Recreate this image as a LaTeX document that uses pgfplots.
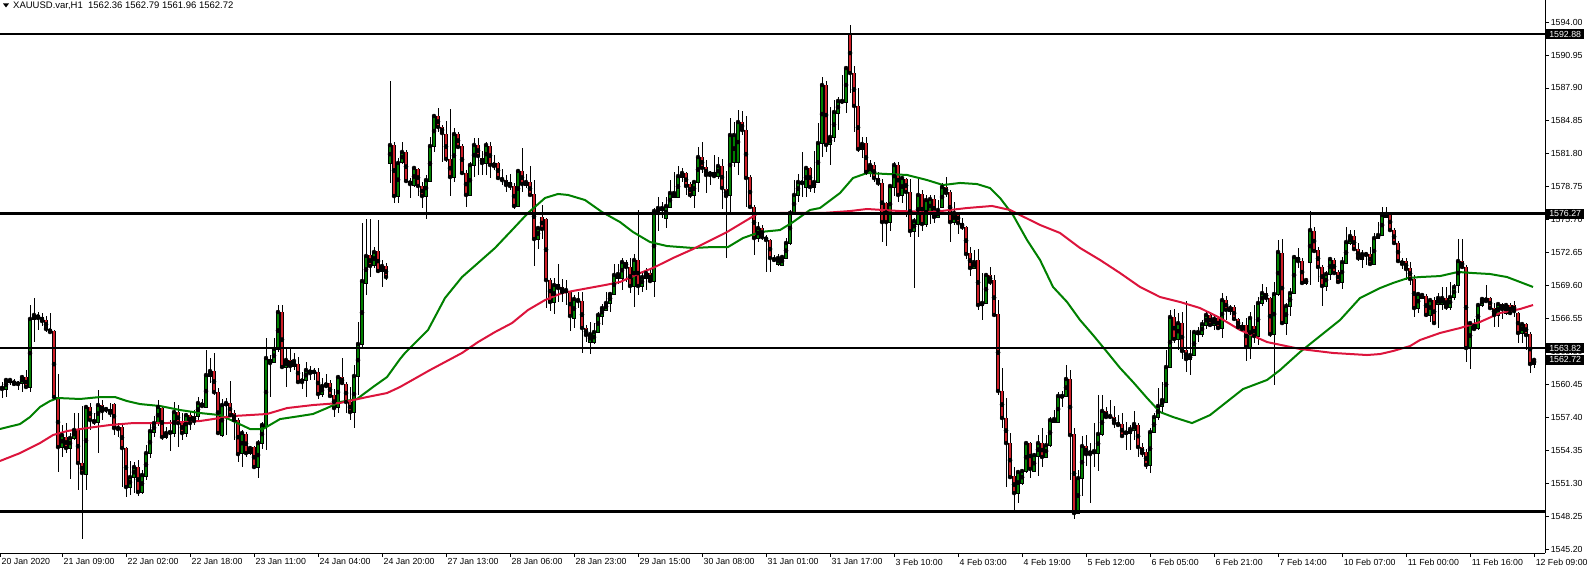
\documentclass[border=0pt]{standalone}
\usepackage{pgfplots}
\usepackage{pgfplotstable}
\pgfplotsset{compat=1.18}
\usepackage{fontspec}
\setmainfont{Liberation Sans}
\definecolor{mtgreen}{RGB}{0,128,0}
\definecolor{mtred}{RGB}{205,30,40}
\definecolor{macrimson}{RGB}{220,20,60}

% XAUUSD H1 bars: index, open, high, low, close
\pgfplotstableread{
i o h l c
0 1560.21 1560.67 1559.19 1560.03
1 1560.03 1561.04 1559.28 1560.86
2 1560.67 1561.04 1560.40 1560.86
3 1560.77 1560.95 1560.30 1560.49
4 1560.58 1560.77 1559.93 1560.49
5 1560.58 1561.32 1559.74 1561.13
6 1561.13 1561.78 1560.12 1560.21
7 1560.21 1567.80 1559.74 1566.51
8 1566.51 1568.45 1564.37 1566.88
9 1566.88 1567.15 1565.49 1566.60
10 1566.69 1567.06 1565.86 1566.32
11 1566.41 1566.78 1565.30 1565.58
12 1565.58 1567.06 1565.21 1565.30
13 1565.39 1565.49 1559.00 1559.28
14 1559.28 1561.41 1552.34 1554.65
15 1554.65 1556.69 1553.73 1555.76
16 1555.58 1556.87 1554.09 1554.56
17 1554.56 1555.95 1551.69 1555.49
18 1555.49 1557.80 1555.30 1556.23
19 1556.32 1557.80 1550.67 1553.17
20 1553.17 1558.45 1546.13 1552.25
21 1552.15 1558.54 1550.67 1558.36
22 1558.36 1558.73 1556.23 1557.15
23 1557.15 1557.80 1556.69 1556.97
24 1556.97 1559.93 1554.09 1558.54
25 1558.54 1559.00 1557.15 1557.99
26 1558.08 1558.36 1557.80 1558.17
27 1558.17 1558.73 1557.43 1557.80
28 1558.63 1558.73 1555.76 1556.41
29 1556.50 1556.87 1555.58 1556.32
30 1556.50 1556.69 1550.95 1554.56
31 1554.56 1554.65 1550.02 1550.95
32 1550.95 1553.36 1550.21 1551.87
33 1551.87 1553.26 1550.39 1552.80
34 1552.80 1553.45 1550.12 1550.49
35 1550.49 1552.52 1550.30 1552.06
36 1551.97 1554.83 1551.60 1554.09
37 1554.09 1556.87 1553.64 1556.13
38 1556.04 1557.52 1555.58 1556.87
39 1556.87 1559.00 1556.60 1558.36
40 1558.26 1558.45 1555.30 1555.58
41 1555.58 1556.50 1555.39 1555.95
42 1555.95 1557.15 1554.28 1556.04
43 1555.95 1558.82 1555.58 1557.89
44 1557.89 1558.54 1554.65 1556.87
45 1556.97 1557.80 1555.30 1555.95
46 1555.95 1557.80 1555.58 1557.61
47 1557.61 1557.99 1556.23 1556.87
48 1557.52 1558.08 1556.69 1557.06
49 1557.52 1559.28 1557.15 1558.73
50 1558.73 1559.10 1558.36 1558.45
51 1558.36 1563.63 1558.26 1561.32
52 1561.23 1562.89 1560.58 1561.69
53 1561.69 1563.36 1559.47 1559.74
54 1559.74 1560.12 1555.76 1555.95
55 1555.76 1559.10 1555.58 1558.54
56 1558.54 1559.19 1555.76 1558.73
57 1558.73 1560.77 1557.43 1557.61
58 1557.80 1558.08 1555.30 1557.15
59 1557.15 1557.34 1553.26 1554.00
60 1554.09 1556.23 1552.80 1555.95
61 1555.86 1556.04 1553.73 1554.09
62 1554.09 1554.74 1553.91 1554.56
63 1554.65 1554.74 1552.62 1552.80
64 1552.80 1555.30 1551.78 1555.02
65 1555.02 1556.97 1554.46 1556.69
66 1556.60 1564.74 1554.37 1562.89
67 1562.80 1563.17 1559.28 1562.43
68 1562.52 1564.74 1562.43 1563.73
69 1563.73 1567.80 1563.45 1567.15
70 1567.15 1567.80 1561.90 1562.06
71 1562.06 1563.73 1560.21 1562.71
72 1562.71 1563.91 1561.60 1562.15
73 1562.15 1563.36 1561.78 1562.62
74 1562.34 1562.98 1560.58 1560.67
75 1560.95 1561.60 1560.02 1560.67
76 1560.86 1562.52 1559.28 1561.78
77 1561.78 1562.15 1560.86 1561.50
78 1561.60 1561.97 1560.86 1561.62
79 1561.60 1561.97 1559.10 1559.56
80 1559.56 1561.04 1559.28 1560.30
81 1560.58 1561.41 1560.12 1560.30
82 1560.58 1560.86 1559.19 1559.38
83 1559.47 1560.02 1557.43 1558.26
84 1558.36 1561.32 1557.80 1561.13
85 1561.13 1562.89 1560.40 1560.58
86 1560.49 1560.67 1557.80 1558.82
87 1558.82 1560.21 1557.15 1557.89
88 1557.89 1562.25 1556.41 1561.23
89 1561.23 1566.23 1559.47 1564.19
90 1564.19 1575.39 1563.91 1570.02
91 1569.84 1575.76 1568.73 1572.34
92 1572.43 1575.76 1570.39 1571.41
93 1571.50 1573.17 1571.23 1572.71
94 1572.80 1575.67 1570.76 1570.95
95 1570.95 1571.97 1569.47 1571.41
96 1571.41 1571.69 1570.11 1570.39
97 1580.95 1588.54 1579.10 1582.61
98 1582.62 1582.89 1577.24 1577.89
99 1577.89 1581.41 1577.24 1580.95
100 1581.04 1582.89 1580.86 1581.97
101 1581.97 1582.15 1579.09 1579.28
102 1579.28 1579.56 1577.71 1579.00
103 1578.91 1580.67 1578.73 1580.49
104 1580.39 1580.49 1577.89 1578.82
105 1578.82 1579.19 1576.78 1577.89
106 1577.89 1579.84 1575.76 1579.37
107 1579.28 1583.36 1579.19 1582.52
108 1582.52 1585.48 1581.97 1585.30
109 1585.30 1586.04 1583.82 1584.28
110 1584.28 1584.46 1581.04 1583.72
111 1583.63 1584.83 1581.04 1581.32
112 1581.32 1585.95 1577.89 1579.65
113 1579.65 1584.19 1579.19 1583.63
114 1583.63 1583.82 1582.34 1582.43
115 1582.52 1582.71 1579.84 1580.02
116 1580.02 1580.30 1576.88 1577.99
117 1577.99 1581.04 1577.89 1580.76
118 1580.76 1583.26 1579.65 1582.62
119 1582.62 1583.26 1579.84 1581.60
120 1581.41 1582.06 1579.84 1580.95
121 1580.95 1582.89 1579.84 1582.62
122 1582.52 1582.89 1579.56 1580.76
123 1580.95 1581.69 1580.30 1580.67
124 1580.95 1581.04 1579.37 1579.56
125 1579.56 1580.39 1578.91 1579.37
126 1579.37 1579.84 1578.26 1578.91
127 1579.19 1579.93 1578.45 1578.82
128 1578.82 1579.09 1576.69 1576.97
129 1576.97 1580.39 1576.88 1580.21
130 1580.21 1582.34 1578.26 1579.00
131 1578.91 1579.93 1578.63 1579.19
132 1579.19 1580.67 1577.90 1577.99
133 1578.08 1579.37 1571.41 1573.91
134 1573.91 1575.02 1572.98 1574.93
135 1575.95 1577.06 1573.91 1574.84
136 1575.76 1575.86 1567.52 1570.11
137 1570.11 1570.30 1567.24 1568.08
138 1568.08 1570.30 1566.97 1569.65
139 1569.74 1571.60 1568.08 1569.37
140 1569.47 1570.21 1568.08 1569.00
141 1569.00 1570.11 1567.80 1569.19
142 1569.00 1569.10 1565.39 1566.78
143 1566.60 1568.73 1565.67 1568.36
144 1568.36 1569.00 1567.52 1568.17
145 1568.17 1569.00 1563.36 1565.67
146 1565.67 1565.95 1564.37 1565.02
147 1564.37 1566.23 1563.26 1565.11
148 1564.37 1566.13 1564.19 1565.30
149 1565.30 1567.15 1565.21 1566.88
150 1566.78 1567.89 1565.95 1567.52
151 1567.34 1569.00 1567.24 1567.99
152 1567.99 1569.00 1567.15 1568.82
153 1568.82 1571.60 1568.73 1570.58
154 1570.30 1571.60 1569.74 1570.67
155 1570.30 1572.15 1569.19 1571.78
156 1571.78 1571.97 1569.93 1571.32
157 1571.32 1572.15 1568.91 1569.56
158 1569.56 1572.52 1567.61 1571.97
159 1571.97 1576.60 1568.73 1569.56
160 1569.56 1570.86 1569.00 1570.39
161 1570.30 1571.23 1569.19 1570.76
162 1570.76 1571.23 1569.84 1570.02
163 1570.02 1576.78 1568.54 1576.50
164 1576.41 1577.80 1574.65 1576.78
165 1576.60 1577.34 1575.86 1576.78
166 1575.86 1577.80 1574.93 1576.97
167 1576.88 1579.37 1576.78 1578.17
168 1577.80 1580.12 1577.71 1578.17
169 1577.80 1580.67 1577.71 1579.74
170 1579.65 1580.49 1579.19 1580.02
171 1580.02 1580.12 1577.99 1578.82
172 1579.00 1579.19 1577.71 1577.99
173 1577.99 1579.28 1576.78 1579.19
174 1579.19 1582.43 1578.26 1581.50
175 1581.50 1582.89 1580.02 1580.49
176 1580.58 1581.23 1578.17 1579.84
177 1580.12 1580.21 1578.91 1579.84
178 1580.12 1581.69 1579.56 1579.74
179 1579.74 1581.50 1579.47 1580.67
180 1580.67 1581.32 1576.69 1578.63
181 1578.54 1580.21 1572.15 1577.89
182 1577.99 1585.11 1576.32 1583.54
183 1581.04 1584.74 1580.58 1583.54
184 1581.04 1585.86 1579.84 1584.74
185 1584.74 1585.76 1583.54 1584.00
186 1584.00 1585.30 1576.88 1579.56
187 1579.65 1579.84 1576.78 1576.88
188 1576.88 1577.06 1572.43 1574.00
189 1574.00 1575.48 1573.63 1574.93
190 1574.93 1575.21 1573.82 1574.09
191 1574.09 1574.28 1570.86 1573.82
192 1573.82 1573.91 1570.86 1572.15
193 1572.15 1572.43 1571.78 1571.97
194 1571.60 1572.52 1571.41 1572.15
195 1571.50 1572.43 1571.41 1572.25
196 1572.15 1574.00 1572.10 1573.54
197 1573.54 1576.60 1573.36 1576.32
198 1576.32 1579.37 1576.13 1577.99
199 1577.99 1579.93 1577.34 1579.19
200 1579.19 1581.97 1577.80 1579.09
201 1578.73 1580.67 1577.80 1580.49
202 1580.49 1580.58 1578.26 1578.73
203 1578.73 1582.06 1578.17 1579.19
204 1579.19 1584.65 1579.09 1582.80
205 1582.80 1588.91 1581.50 1588.17
206 1588.17 1588.54 1581.97 1582.62
207 1582.71 1586.13 1580.76 1583.36
208 1583.36 1586.78 1582.89 1585.67
209 1585.58 1587.06 1584.00 1586.69
210 1586.60 1589.09 1586.50 1586.69
211 1586.60 1589.93 1585.58 1589.74
212 1592.98 1593.73 1587.43 1589.28
213 1589.28 1589.93 1583.82 1586.23
214 1586.23 1587.89 1581.97 1582.24
215 1582.24 1583.36 1581.41 1582.71
216 1582.80 1583.36 1579.84 1580.12
217 1580.12 1581.23 1579.65 1580.76
218 1580.76 1581.04 1579.19 1579.56
219 1579.56 1580.12 1578.82 1579.09
220 1579.09 1579.47 1573.63 1575.48
221 1577.24 1577.34 1573.26 1575.48
222 1575.48 1578.91 1574.65 1578.82
223 1578.73 1581.04 1577.89 1580.76
224 1580.76 1581.04 1577.34 1577.99
225 1577.99 1579.65 1577.24 1579.56
226 1579.47 1579.56 1575.95 1578.26
227 1578.26 1579.47 1574.09 1574.65
228 1574.65 1575.86 1569.37 1575.58
229 1575.30 1579.56 1574.09 1577.99
230 1578.08 1578.45 1574.65 1575.30
231 1575.30 1577.99 1575.02 1577.52
232 1576.32 1577.99 1575.30 1577.61
233 1577.61 1577.99 1575.39 1575.95
234 1575.95 1577.52 1575.85 1576.60
235 1576.88 1579.09 1576.78 1578.73
236 1578.73 1579.65 1577.80 1578.17
237 1578.26 1578.45 1573.63 1575.48
238 1575.48 1577.34 1575.21 1576.32
239 1576.32 1576.41 1574.37 1575.39
240 1575.39 1575.86 1574.74 1575.02
241 1575.02 1575.11 1572.06 1572.52
242 1572.61 1573.17 1570.48 1571.23
243 1571.23 1572.89 1571.13 1571.78
244 1571.97 1572.98 1567.34 1567.80
245 1567.80 1570.76 1566.41 1567.99
246 1567.99 1570.76 1567.89 1570.58
247 1570.58 1571.32 1569.65 1569.93
248 1570.11 1570.58 1566.69 1566.88
249 1566.97 1568.26 1559.47 1559.84
250 1559.84 1561.97 1556.41 1557.34
251 1557.34 1559.19 1550.95 1555.02
252 1555.02 1555.95 1551.78 1551.87
253 1551.97 1552.80 1548.82 1550.39
254 1550.39 1552.52 1549.47 1552.34
255 1551.32 1552.62 1551.13 1552.43
256 1552.43 1555.11 1552.25 1555.02
257 1555.02 1555.11 1551.78 1552.62
258 1552.43 1554.09 1552.34 1553.91
259 1553.82 1555.76 1551.97 1555.02
260 1555.02 1556.41 1552.80 1553.73
261 1553.73 1555.76 1553.64 1554.83
262 1554.83 1557.43 1554.65 1557.15
263 1556.97 1558.08 1556.87 1557.24
264 1556.97 1559.74 1556.87 1559.38
265 1559.28 1559.84 1558.36 1559.38
266 1559.38 1562.25 1559.28 1560.95
267 1560.95 1561.78 1551.60 1555.76
268 1555.86 1556.41 1547.98 1548.54
269 1548.54 1552.52 1548.45 1551.78
270 1551.78 1555.67 1550.12 1554.74
271 1554.74 1555.76 1552.89 1554.00
272 1554.28 1555.02 1549.47 1554.00
273 1554.09 1556.87 1552.80 1554.28
274 1554.09 1559.47 1552.43 1555.86
275 1555.86 1559.47 1555.67 1557.99
276 1557.99 1558.36 1557.34 1557.43
277 1557.43 1559.00 1557.34 1557.52
278 1557.43 1558.45 1556.41 1556.87
279 1556.87 1557.61 1556.50 1556.69
280 1556.78 1557.80 1555.58 1555.67
281 1556.04 1556.97 1554.37 1555.95
282 1555.95 1556.69 1554.37 1556.32
283 1556.23 1557.99 1555.30 1556.78
284 1556.69 1556.87 1553.73 1554.65
285 1554.65 1555.02 1553.73 1554.09
286 1554.19 1554.46 1552.62 1552.99
287 1552.99 1556.41 1552.25 1556.04
288 1556.04 1557.80 1555.95 1557.43
289 1557.43 1560.12 1557.15 1558.45
290 1558.45 1560.67 1557.80 1559.00
291 1558.82 1563.63 1558.73 1562.06
292 1562.06 1567.34 1561.97 1566.69
293 1566.69 1567.43 1564.28 1564.65
294 1564.65 1567.06 1563.63 1566.13
295 1566.13 1567.15 1562.80 1563.54
296 1563.63 1568.17 1561.60 1562.80
297 1562.80 1565.49 1561.32 1563.17
298 1563.17 1565.49 1563.08 1565.30
299 1565.11 1565.76 1564.37 1565.30
300 1565.11 1566.41 1564.83 1566.04
301 1565.95 1567.15 1565.58 1566.88
302 1566.88 1567.15 1565.76 1565.95
303 1565.95 1566.88 1565.49 1566.51
304 1566.60 1566.78 1565.49 1565.67
305 1565.67 1568.91 1564.74 1568.26
306 1568.26 1568.63 1566.41 1567.34
307 1567.24 1567.80 1566.88 1567.52
308 1567.61 1567.80 1566.32 1566.51
309 1566.51 1566.60 1565.49 1565.76
310 1565.95 1566.23 1565.30 1565.58
311 1565.95 1566.60 1562.62 1563.91
312 1563.91 1567.15 1562.80 1566.60
313 1565.86 1567.80 1564.28 1564.93
314 1564.93 1568.54 1564.09 1567.99
315 1567.99 1569.74 1567.71 1568.91
316 1568.91 1569.47 1568.08 1568.45
317 1568.45 1568.54 1564.83 1565.11
318 1565.11 1569.93 1560.40 1568.82
319 1568.82 1573.82 1568.63 1572.71
320 1572.61 1573.91 1566.04 1566.13
321 1566.13 1567.99 1565.02 1567.71
322 1567.71 1569.37 1566.78 1568.91
323 1568.91 1572.43 1568.80 1572.24
324 1572.24 1573.08 1571.23 1571.87
325 1571.87 1572.15 1569.74 1569.84
326 1569.84 1570.30 1569.65 1570.11
327 1571.78 1576.50 1569.65 1574.74
328 1574.65 1575.02 1572.61 1572.80
329 1572.89 1573.17 1569.93 1571.32
330 1571.32 1571.50 1567.71 1569.56
331 1569.56 1570.95 1569.10 1570.67
332 1570.67 1572.25 1570.11 1572.06
333 1571.97 1572.15 1570.70 1570.76
334 1570.86 1571.04 1569.84 1569.93
335 1569.93 1572.25 1569.28 1571.78
336 1571.69 1575.02 1571.60 1573.63
337 1573.54 1574.74 1573.36 1574.19
338 1574.19 1574.74 1572.80 1572.98
339 1572.98 1573.54 1571.87 1572.15
340 1572.06 1572.89 1571.23 1572.52
341 1572.43 1572.61 1571.50 1572.52
342 1572.52 1573.17 1571.50 1571.60
343 1571.60 1574.47 1571.50 1574.00
344 1574.00 1575.48 1573.91 1574.28
345 1574.28 1576.88 1574.19 1576.13
346 1575.95 1576.88 1575.90 1576.23
347 1576.23 1576.41 1574.65 1574.74
348 1574.74 1574.93 1573.36 1573.54
349 1573.54 1573.73 1571.69 1571.87
350 1571.87 1572.15 1571.13 1571.60
351 1571.87 1572.15 1570.11 1571.13
352 1571.23 1571.78 1569.65 1570.21
353 1570.21 1570.58 1566.69 1567.52
354 1567.52 1568.91 1567.06 1568.82
355 1568.45 1568.91 1568.36 1568.73
356 1568.63 1568.82 1566.69 1566.88
357 1566.88 1568.45 1566.23 1568.26
358 1568.26 1568.54 1566.05 1566.13
359 1567.89 1568.91 1565.67 1568.45
360 1567.89 1569.47 1567.34 1568.45
361 1568.45 1569.47 1567.34 1567.61
362 1567.61 1569.93 1567.34 1568.54
363 1568.54 1569.74 1568.26 1569.47
364 1569.65 1573.91 1568.91 1571.87
365 1571.87 1573.91 1571.13 1571.32
366 1571.32 1571.50 1562.52 1563.82
367 1563.82 1566.23 1561.87 1566.13
368 1566.13 1566.51 1565.49 1565.58
369 1565.67 1567.99 1565.49 1567.80
370 1567.80 1568.54 1567.61 1568.36
371 1568.45 1569.65 1568.08 1568.17
372 1568.45 1568.54 1567.43 1567.52
373 1567.52 1567.99 1565.76 1566.88
374 1566.88 1567.99 1565.76 1567.89
375 1567.89 1567.99 1566.50 1567.43
376 1567.06 1567.99 1566.88 1567.80
377 1567.80 1567.99 1566.88 1567.06
378 1567.80 1568.17 1566.69 1567.24
379 1567.06 1567.15 1564.28 1565.21
380 1565.21 1566.13 1564.28 1566.04
381 1566.04 1566.13 1563.63 1565.02
382 1565.11 1565.30 1561.50 1562.34
383 1562.36 1562.79 1561.96 1562.72
}\candles

\begin{document}
\begin{tikzpicture}
\useasboundingbox (0pt,0pt) rectangle (1589pt,-569pt);
\begin{axis}[
    at={(0pt,0pt)}, anchor=north west,
    scale only axis, width=1545pt, height=553pt,
    xmin=-0.5, xmax=385.75,
    ymin=1544.84, ymax=1596.04,
    axis x line*=bottom, axis y line*=right,
    axis line style={black, line width=1pt},
    tick align=outside, major tick length=4pt,
    tick style={black, line width=0.8pt},
    xtick={-0.5,15,31,47,63,79,95,111,127,143,159,175,191,207,223,239,255,271,287,303,319,335,351,367,383},
    xticklabels={20 Jan 2020,21 Jan 09:00,22 Jan 02:00,22 Jan 18:00,23 Jan 11:00,24 Jan 04:00,24 Jan 20:00,27 Jan 13:00,28 Jan 06:00,28 Jan 23:00,29 Jan 15:00,30 Jan 08:00,31 Jan 01:00,31 Jan 17:00,3 Feb 10:00,4 Feb 03:00,4 Feb 19:00,5 Feb 12:00,6 Feb 05:00,6 Feb 21:00,7 Feb 14:00,10 Feb 07:00,11 Feb 00:00,11 Feb 16:00,12 Feb 09:00},
    ytick={1545.20,1548.25,1551.30,1554.35,1557.40,1560.45,1563.50,1566.55,1569.60,1572.65,1575.70,1578.75,1581.80,1584.85,1587.90,1590.95,1594.00},
    yticklabels={1545.20,1548.25,1551.30,1554.35,1557.40,1560.45,1563.50,1566.55,1569.60,1572.65,1575.70,1578.75,1581.80,1584.85,1587.90,1590.95,1594.00},
    tick label style={font=\fontsize{8.8}{10}\selectfont},
    xticklabel style={anchor=north west, inner sep=1.5pt},
    yticklabel style={anchor=west, inner sep=1.5pt},
]
% wicks: high-low
\addplot[only marks, mark=none,
    error bars/.cd, y dir=both, y explicit, error mark=none,
    error bar style={black, line width=1pt}]
    table[x=i, y=c, y error plus expr=\thisrow{h}-\thisrow{c}, y error minus expr=\thisrow{c}-\thisrow{l}] {\candles};
% bodies: black outline
\addplot[only marks, mark=none,
    error bars/.cd, y dir=both, y explicit, error mark=-,
    error bar style={black, line width=3.3pt},
    error mark options={rotate=90, black, line width=0.7pt, mark size=1.65pt}]
    table[x=i, y expr=(\thisrow{o}+\thisrow{c})/2, y error expr=abs(\thisrow{o}-\thisrow{c})/2] {\candles};
% bodies: fill of rising bars
\addplot[only marks, mark=none, restrict expr to domain={\thisrow{c}-\thisrow{o}}{0:100},
    error bars/.cd, y dir=both, y explicit, error mark=none,
    error bar style={mtgreen, line width=1.8pt}]
    table[x=i, y expr=(\thisrow{o}+\thisrow{c})/2, y error expr=abs(\thisrow{o}-\thisrow{c})/2] {\candles};
% bodies: fill of falling bars
\addplot[only marks, mark=none, restrict expr to domain={\thisrow{o}-\thisrow{c}}{0.001:100},
    error bars/.cd, y dir=both, y explicit, error mark=none,
    error bar style={mtred, line width=1.8pt}]
    table[x=i, y expr=(\thisrow{o}+\thisrow{c})/2, y error expr=abs(\thisrow{o}-\thisrow{c})/2] {\candles};

% moving averages
\addplot[mtgreen, line width=2pt] coordinates {
(-0.5,1556.32) (4.5,1556.78) (7,1557.43) (9.5,1558.36) (12,1558.91) (14,1559.19)
(19.5,1559.10) (24.5,1559.28) (28.25,1559.28) (31.25,1558.91) (34.5,1558.63)
(39.5,1558.45) (44.5,1558.08) (49.5,1557.80) (54.5,1557.61) (57.75,1557.06)
(62,1556.32) (65.25,1556.32) (69.5,1557.24) (74.5,1557.52) (77.75,1557.71)
(81.25,1558.26) (84.5,1558.82) (88.75,1559.10) (92.75,1560.21) (96.25,1561.13)
(99.5,1562.80) (100.75,1563.36) (106.5,1565.49) (110.75,1568.45) (115,1570.39)
(119,1571.69) (123.25,1573.08) (127.5,1574.74) (131.5,1576.32) (135.75,1577.71)
(139,1578.08) (141.5,1577.99) (145.75,1577.52) (150,1576.41) (154.5,1575.48)
(157.75,1574.56) (162,1573.63) (166.25,1573.26) (172.75,1573.08) (177.75,1573.17)
(181.5,1573.17) (185.25,1574.00) (189.5,1574.56) (194.5,1574.74) (197.75,1575.48)
(202,1576.60) (204.5,1576.78) (209.5,1578.17) (212.75,1579.56) (216.25,1580.02)
(221.25,1579.93) (226.25,1579.84) (231.25,1579.37) (235.25,1578.91) (239.5,1579.10)
(243.75,1579.00) (247,1578.63) (249.5,1577.71) (252.75,1576.13) (256.25,1573.82)
(259.5,1571.97) (262.75,1569.47) (266.25,1568.08) (269.5,1566.41) (272.75,1565.02)
(276.25,1563.45) (279.5,1561.97) (282.75,1560.67) (286.25,1559.19) (289.5,1557.89)
(292.75,1557.43) (297.5,1556.87) (302,1557.61) (310.25,1560.02) (316.25,1560.86)
(319.5,1561.78) (324.5,1563.45) (329.5,1564.93) (334.5,1566.41) (339.5,1568.45)
(344.5,1569.37) (347.75,1569.84) (351.5,1570.30) (354.5,1570.39) (359.5,1570.48)
(364,1570.86) (367.75,1570.76) (372,1570.67) (376.25,1570.39) (379.5,1569.93)
(382.75,1569.47)
};
\addplot[macrimson, line width=2pt] coordinates {
(-0.5,1553.36) (4.5,1554.09) (9.5,1555.02) (12.75,1555.76) (16.25,1556.13)
(21.25,1556.41) (27,1556.69) (32.75,1556.87) (41.25,1556.87) (49.5,1557.06)
(57.75,1557.52) (66.25,1557.71) (71.25,1558.26) (77.75,1558.54) (84.5,1558.73)
(91.25,1559.28) (96.25,1559.65) (99.5,1560.21) (107,1561.78) (115,1563.36)
(119,1564.37) (123.25,1565.30) (127.5,1566.13) (131.5,1567.34) (135.75,1568.26)
(140,1568.91) (144,1569.19) (150.75,1569.65) (154.5,1569.93) (159.5,1570.76)
(162.75,1571.23) (167.75,1572.15) (172.75,1572.98) (176.25,1573.63) (181.25,1574.56)
(186.25,1575.67) (188.75,1576.23) (194.5,1576.32) (205.25,1576.32) (212,1576.50)
(216.25,1576.69) (224.5,1576.50) (232.75,1576.41) (237,1576.60) (241.25,1576.78)
(247.5,1576.97) (252,1576.60) (254.5,1576.13) (259.5,1575.21) (264.5,1574.47)
(269.5,1573.08) (274.5,1571.97) (279.5,1570.76) (284.5,1569.47) (289.5,1568.54)
(294.5,1568.08) (299.5,1567.52) (304.5,1566.60) (309.5,1565.49) (316.25,1564.37)
(324.5,1563.73) (332.75,1563.36) (341.25,1563.17) (344.5,1563.26) (347.75,1563.54)
(352,1564.00) (354.5,1564.56) (359.5,1565.21) (364.5,1565.67) (369.5,1566.23)
(374.5,1567.06) (379.5,1567.43) (382.75,1567.80)
};

% horizontal levels
\addplot[black, line width=2.2pt] coordinates {(-0.5,1592.88) (385.75,1592.88)};
\addplot[black, line width=2.2pt] coordinates {(-0.5,1576.27) (385.75,1576.27)};
\addplot[black, line width=2.2pt] coordinates {(-0.5,1563.82) (385.75,1563.82)};
\addplot[black, line width=2.2pt] coordinates {(-0.5,1548.69) (385.75,1548.69)};

\coordinate (tagA) at (axis cs:385.75,1592.88);
\coordinate (tagB) at (axis cs:385.75,1576.27);
\coordinate (tagC) at (axis cs:385.75,1563.82);
\coordinate (tagD) at (axis cs:385.75,1562.72);
\end{axis}

% price tags on the scale
\foreach \cc/\pv in {tagA/1592.88,tagB/1576.27,tagC/1563.82,tagD/1562.72}
    \node[anchor=west, fill=black, text=white, inner xsep=3pt, inner ysep=1pt,
          minimum height=10pt, font=\fontsize{8.8}{10}\selectfont] at ([xshift=1pt]\cc) {\pv};

% chart header
\fill[black] (3pt,-3.5pt) -- (9pt,-3.5pt) -- (6pt,-7.5pt) -- cycle;
\node[anchor=west, inner sep=0pt, font=\fontsize{9.5}{10}\selectfont] at (13pt,-6pt)
    {XAUUSD.var,H1\ \ 1562.36 1562.79 1561.96 1562.72};
\end{tikzpicture}
\end{document}
